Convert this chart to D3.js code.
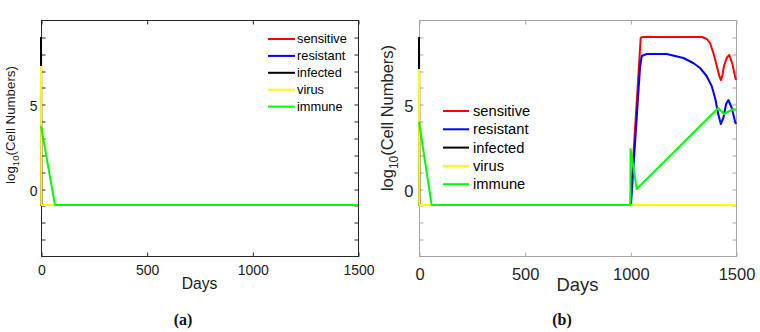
<!DOCTYPE html>
<html>
<head>
<meta charset="utf-8">
<script src="https://cdn.jsdelivr.net/npm/d3@7"></script>
<style>
  body { margin: 0; background: #fff; }
  svg { display: block; }
</style>
</head>
<body>
<script>
// series shared by both panels
const seriesNames = ["sensitive", "resistant", "infected", "virus", "immune"];
const seriesColors = ["#ff0000", "#0000ff", "#000000", "#ffff00", "#00ff00"];
const xTicks = [0, 500, 1000, 1500];
const yTicks = [-3, -2, -1, 0, 1, 2, 3, 4, 5, 6, 7, 8, 9];
const yTickLabels = [0, 5];

// panel (a): [day, log10 cells]
const aSensitive = [[0, 9], [1, -1], [1500, -1]];
const aResistant = [[0, 8], [1, -1], [1500, -1]];
const aInfected = [[0, 9], [1, -1], [1500, -1]];
const aVirus = [[0, 7.3], [1, -1], [1500, -1]];
const aImmune = [[0, 3.71], [66, -1], [1500, -1]];

// panel (b)
const bSensitive = [[0, 9], [1, -1], [1000, -1], [1049, 8.95], [1055, 9.0], [1200, 9.0], [1340, 8.97],
  [1362, 8.85], [1377, 8.66], [1393, 8.07], [1409, 7.27], [1421, 6.68], [1429, 6.42], [1436, 6.75],
  [1443, 7.27], [1456, 7.77], [1468, 7.9], [1483, 7.37], [1496, 6.6], [1500, 6.45]];
const bResistant = [[0, 8], [1, -1], [1003, -1], [1046, 7.2], [1054, 7.86], [1077, 8.0], [1172, 7.97],
  [1251, 7.77], [1298, 7.47], [1330, 7.17], [1361, 6.68], [1385, 6.09], [1401, 5.4], [1416, 4.41],
  [1428, 3.81], [1440, 4.2], [1453, 5.0], [1464, 5.24], [1480, 4.8], [1496, 3.95], [1500, 3.85]];
const bInfected = [[0, 9], [1, -1], [1500, -1]];
const bVirus = [[0, 7.1], [1, -1], [1500, -1]];
const bImmune = [[0, 3.93], [60, -1], [1000, -1], [1001, 2.33], [1030, 0], [1416, 4.8], [1443, 4.4],
  [1487, 4.74], [1500, 4.66]];

const font = "'Liberation Sans', Arial, sans-serif";
const plotTop = 20, plotBottom = 256;

const panels = [
  {
    left: 41, right: 358, frame: "#262626", text: "#1a1a1a",
    series: [aSensitive, aResistant, aInfected, aVirus, aImmune],
    tickSize: 14, xPad: 9, yPad: 4, labelSize: 13.3, labelX: 15, labelY: 125,
    daysSize: 15.7, daysY: 289,
    legend: {x0: 268, x1: 295, tx: 297, y: 39, dy: 16.9, size: 12.8},
    caption: "(a)", capX: 183
  },
  {
    left: 419, right: 736, frame: "#a6a6a6", text: "#262626",
    series: [bSensitive, bResistant, bInfected, bVirus, bImmune],
    tickSize: 16.5, xPad: 12, yPad: 6, labelSize: 16.5, labelX: 393, labelY: 118,
    daysSize: 18.4, daysY: 291,
    legend: {x0: 443, x1: 469, tx: 473, y: 111, dy: 18.3, size: 14.7},
    caption: "(b)", capX: 562
  }
];

const svg = d3.select("body").append("svg")
  .attr("width", 760)
  .attr("height", 332)
  .attr("font-family", font);

function drawPanel(p) {
  const g = svg.append("g");
  const x = d3.scaleLinear().domain([0, 1500]).range([p.left, p.right]);
  // rounded so the stacked floor lines sit on whole pixels
  const y = d3.scaleLinear().domain([-4, 10]).rangeRound([plotBottom, plotTop]);

  // box
  g.append("rect")
    .attr("x", p.left + 0.5).attr("y", plotTop + 0.5)
    .attr("width", p.right - p.left).attr("height", plotBottom - plotTop)
    .attr("fill", "none").attr("stroke", p.frame);

  const style = a => {
    a.select(".domain").remove();
    a.selectAll("line").attr("stroke", p.frame);
    a.selectAll("text").attr("fill", p.text).attr("font-size", p.tickSize).attr("font-family", font);
  };

  g.append("g").attr("transform", `translate(0.5,${plotBottom + 0.5})`)
    .call(d3.axisBottom(x).tickValues(xTicks).tickFormat(d3.format("d"))
      .tickSizeInner(-4).tickSizeOuter(0).tickPadding(p.xPad))
    .call(style);
  g.append("g").attr("transform", `translate(0.5,${plotTop + 0.5})`)
    .call(d3.axisTop(x).tickValues(xTicks).tickSizeInner(-4).tickSizeOuter(0).tickFormat(""))
    .call(style);
  g.append("g").attr("transform", `translate(${p.left + 0.5},0.5)`)
    .call(d3.axisLeft(y).tickValues(yTicks).tickSizeInner(-4).tickSizeOuter(0).tickPadding(p.yPad)
      .tickFormat(d => yTickLabels.includes(d) ? d : ""))
    .call(style)
    .call(a => a.selectAll("text").attr("dy", "0.32em").attr("y", 2));
  g.append("g").attr("transform", `translate(${p.right + 0.5},0.5)`)
    .call(d3.axisRight(y).tickValues(yTicks).tickSizeInner(-4).tickSizeOuter(0).tickFormat(""))
    .call(style);

  // curves
  const line = d3.line().x(d => x(d[0])).y(d => y(d[1]));
  p.series.forEach((s, i) => {
    g.append("path")
      .attr("d", line(s))
      .attr("fill", "none")
      .attr("stroke", seriesColors[i])
      .attr("stroke-width", 2)
      .attr("stroke-linejoin", "round");
  });

  // y label with subscript
  const yl = g.append("text")
    .attr("transform", `translate(${p.labelX},${p.labelY}) rotate(-90)`)
    .attr("text-anchor", "middle")
    .attr("font-size", p.labelSize)
    .attr("fill", p.text);
  yl.append("tspan").text("log");
  yl.append("tspan").attr("font-size", p.labelSize * 0.72).attr("dy", p.labelSize * 0.3).text("10");
  yl.append("tspan").attr("dy", -p.labelSize * 0.3).text("(Cell Numbers)");

  g.append("text")
    .attr("x", (p.left + p.right) / 2).attr("y", p.daysY)
    .attr("text-anchor", "middle")
    .attr("font-size", p.daysSize)
    .attr("fill", p.text)
    .text("Days");

  // legend
  const lg = g.append("g");
  seriesNames.forEach((name, i) => {
    const yy = p.legend.y + i * p.legend.dy;
    lg.append("line")
      .attr("x1", p.legend.x0).attr("x2", p.legend.x1)
      .attr("y1", yy).attr("y2", yy)
      .attr("stroke", seriesColors[i]).attr("stroke-width", 2);
    lg.append("text")
      .attr("x", p.legend.tx).attr("y", yy)
      .attr("dy", "0.35em")
      .attr("font-size", p.legend.size)
      .attr("fill", "#000")
      .text(name);
  });

  svg.append("text")
    .attr("x", p.capX).attr("y", 325)
    .attr("text-anchor", "middle")
    .attr("font-family", "'Liberation Serif', 'Times New Roman', serif")
    .attr("font-weight", "bold")
    .attr("font-size", 16)
    .attr("fill", "#111")
    .text(p.caption);
}

panels.forEach(drawPanel);
</script>
</body>
</html>
